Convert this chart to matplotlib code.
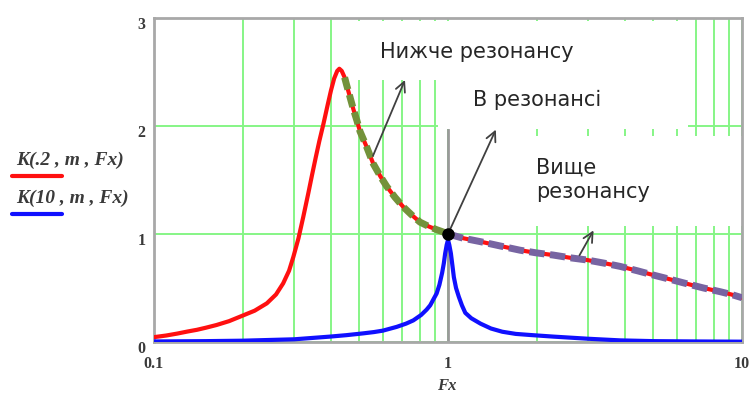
import numpy as np
import matplotlib
matplotlib.use("Agg")
import matplotlib.pyplot as plt
from matplotlib.patches import Rectangle
from matplotlib.lines import Line2D
from matplotlib.ticker import LogLocator, FixedLocator, NullFormatter
import matplotlib.transforms as mtransforms

# frequency ratio and transmissibility, K(.2, m, Fx)
fx_low = [0.100, 0.110, 0.120, 0.130, 0.140, 0.150, 0.163, 0.180, 0.196, 0.220,
          0.242, 0.260, 0.275, 0.288, 0.298, 0.310, 0.322, 0.335, 0.345, 0.355,
          0.365, 0.377, 0.390, 0.400, 0.410, 0.420, 0.427, 0.435, 0.445, 0.452,
          0.465, 0.476, 0.490, 0.502, 0.530, 0.557, 0.590, 0.619, 0.660, 0.705,
          0.750, 0.803, 0.860, 0.915, 0.960, 1.000, 1.130, 1.285, 1.500, 1.758,
          2.000, 2.280, 2.600, 2.960, 3.400, 3.850, 4.400, 4.990, 5.700, 6.480,
          7.400, 8.420, 9.200, 10.00]
k_low = [0.045, 0.060, 0.078, 0.097, 0.113, 0.132, 0.157, 0.193, 0.234, 0.290,
         0.358, 0.440, 0.543, 0.660, 0.790, 0.960, 1.160, 1.380, 1.550, 1.710,
         1.860, 2.020, 2.200, 2.330, 2.440, 2.510, 2.530, 2.510, 2.450, 2.380,
         2.260, 2.160, 2.050, 1.950, 1.800, 1.650, 1.530, 1.440, 1.340, 1.250,
         1.180, 1.110, 1.070, 1.040, 1.020, 1.000, 0.960, 0.930, 0.890, 0.850,
         0.825, 0.805, 0.780, 0.760, 0.730, 0.700, 0.660, 0.620, 0.580, 0.540,
         0.500, 0.466, 0.440, 0.410]

# K(10, m, Fx)
fx_high = [0.100, 0.150, 0.200, 0.300, 0.397, 0.450, 0.515, 0.560, 0.600, 0.669,
           0.720, 0.762, 0.810, 0.846, 0.870, 0.890, 0.915, 0.935, 0.955, 0.968,
           0.978, 0.990, 1.000, 1.010, 1.023, 1.035, 1.047, 1.065, 1.088, 1.115,
           1.145, 1.200, 1.290, 1.400, 1.530, 1.700, 1.900, 2.280, 3.000, 3.850,
           5.000, 7.000, 10.00]
k_high = [0.005, 0.008, 0.012, 0.025, 0.050, 0.063, 0.080, 0.092, 0.105, 0.140,
          0.170, 0.200, 0.250, 0.300, 0.340, 0.390, 0.450, 0.530, 0.640, 0.730,
          0.820, 0.900, 0.945, 0.900, 0.820, 0.710, 0.600, 0.500, 0.420, 0.340,
          0.270, 0.220, 0.170, 0.125, 0.095, 0.075, 0.065, 0.050, 0.030, 0.015,
          0.008, 0.005, 0.003]

x_ticks = [0.1, 1, 10]
x_tick_labels = ["0.1", "1", "10"]
y_ticks = [0, 1, 2, 3]
y_tick_labels = ["0", "1", "2", "3"]

resonance = (1.0, 1.0)
below_range = (0.44, 1.0)
above_range = (1.0, 10.0)

# (tail, head) of the pointer arrows in data units
arrows = [((0.551, 1.70), (0.72, 2.45)),
          ((1.0, 1.0), (1.468, 1.99)),
          ((2.77, 0.78), (3.16, 1.056))]

fig = plt.figure(figsize=(7.54, 4.03), dpi=100)
ax = fig.add_axes([154 / 754, 61 / 403, 588 / 754, 324 / 403])

ax.set_xscale("log")
ax.set_xlim(0.1, 10)
ax.set_ylim(0, 3)
ax.set_axisbelow(True)

ax.xaxis.set_major_locator(FixedLocator(x_ticks))
ax.set_xticklabels(x_tick_labels)
ax.xaxis.set_minor_locator(LogLocator(base=10, subs=np.arange(2, 10)))
ax.xaxis.set_minor_formatter(NullFormatter())
ax.set_yticks(y_ticks)
ax.set_yticklabels(y_tick_labels)

grid_col = "#86f586"
ax.grid(True, which="both", axis="x", color=grid_col, lw=1.4)
ax.grid(True, which="major", axis="y", color=grid_col, lw=1.4)
ax.tick_params(which="both", length=0)
ax.tick_params(axis="x", pad=10)
ax.tick_params(axis="y", pad=6)

for lab in ax.get_xticklabels() + ax.get_yticklabels():
    lab.set_fontfamily("Liberation Serif")
    lab.set_fontsize(11.5)
    lab.set_fontweight("bold")
    lab.set_color("#3a3a3a")
shift = mtransforms.ScaledTranslation(0, -5 / 100, fig.dpi_scale_trans)
for lab in ax.get_yticklabels():
    lab.set_transform(lab.get_transform() + shift)

for sp in ax.spines.values():
    sp.set_color("#a8a8a8")
    sp.set_linewidth(2)

# white backgrounds of the text regions hide parts of the grid
for (x0, y0, w, h) in [(0.313, 0.809, 0.595, 0.182),
                       (0.483, 0.657, 0.425, 0.152),
                       (0.507, 0.358, 0.493, 0.278)]:
    ax.add_patch(Rectangle((x0, y0), w, h, transform=ax.transAxes,
                           facecolor="white", edgecolor="none", zorder=1))

ax.axvline(1, ymin=0, ymax=0.654, color="#9a9a9a", lw=2, zorder=1.5)

ax.plot(fx_low, k_low, color="#ff1010", lw=3, zorder=3, solid_capstyle="round")
ax.plot(fx_high, k_high, color="#1010ff", lw=3, zorder=3, solid_capstyle="round")

# dashed highlights over the red curve below and above resonance
fx_arr = np.array(fx_low)
k_arr = np.array(k_low)
sel = (fx_arr >= below_range[0]) & (fx_arr <= below_range[1])
ax.plot(fx_arr[sel], k_arr[sel], color="#73923a", lw=5, ls=(0, (1.8, 0.8)),
        zorder=4, dash_capstyle="butt")
sel = (fx_arr >= above_range[0]) & (fx_arr <= above_range[1])
ax.plot(fx_arr[sel], k_arr[sel], color="#7764a2", lw=5, ls=(0, (2.2, 0.8)),
        zorder=4, dash_capstyle="butt")

ax.plot(*resonance, "o", color="black", ms=8, zorder=6)

for tail, head in arrows:
    ax.annotate("", xy=head, xytext=tail,
                arrowprops=dict(arrowstyle="->,head_length=0.7,head_width=0.35",
                                color="#404040", lw=1.3), zorder=5)

txt = dict(family="DejaVu Sans", fontsize=15, color="#262626",
           transform=ax.transAxes, zorder=6)
ax.text(0.384, 0.895, "Нижче резонансу", va="center", ha="left", **txt)
ax.text(0.5425, 0.747, "В резонансі", va="center", ha="left", **txt)
ax.text(0.650, 0.500, "Вище\nрезонансу", va="center", ha="left",
        linespacing=1.3, **txt)

fig.text(447 / 754, 1 - 386 / 403, "Fx", family="Liberation Serif",
         style="italic", fontweight="bold", fontsize=12, color="#3a3a3a",
         ha="center", va="center")

# legend drawn beside the axes
leg = dict(family="Liberation Serif", style="italic", fontweight="bold",
           fontsize=14, color="#3a3a3a", ha="left", va="center")
fig.text(16 / 754, 1 - 160 / 403, "K(.2 , m , Fx)", **leg)
fig.text(16 / 754, 1 - 198 / 403, "K(10 , m , Fx)", **leg)
fig.add_artist(Line2D([12 / 754, 62 / 754], [1 - 176 / 403] * 2,
                      color="#ff1010", lw=3, solid_capstyle="round"))
fig.add_artist(Line2D([12 / 754, 62 / 754], [1 - 214 / 403] * 2,
                      color="#1010ff", lw=3, solid_capstyle="round"))

fig.savefig("out.png", dpi=100)
